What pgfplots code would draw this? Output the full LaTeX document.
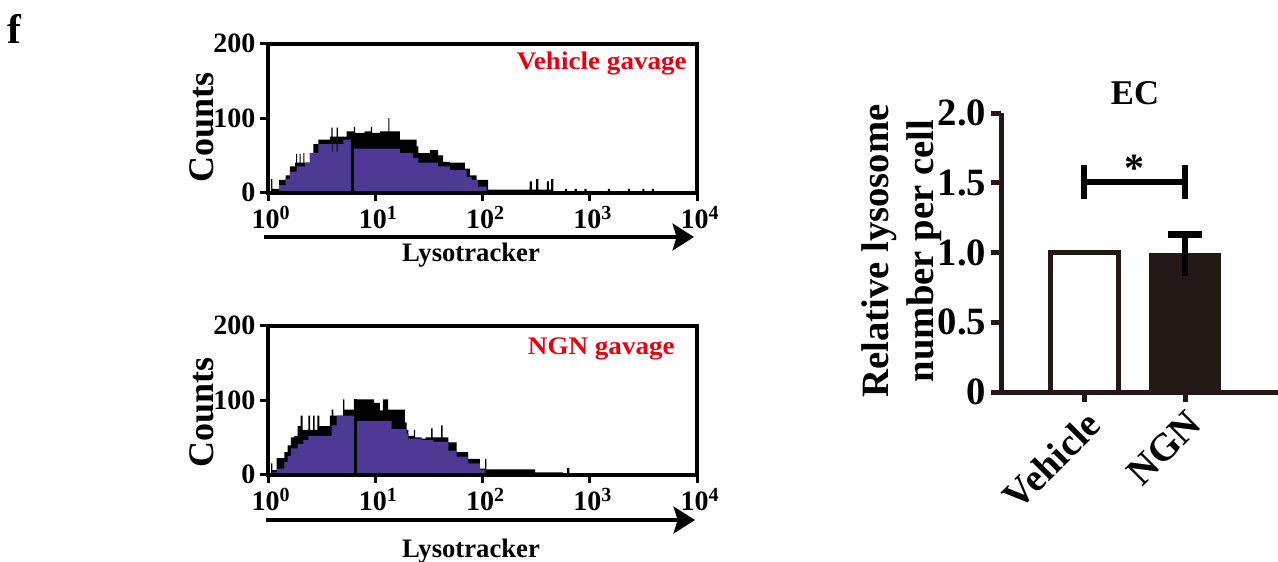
\documentclass[border=0pt]{standalone}
\usepackage{fontspec}
\setmainfont{Liberation Serif}
\newfontfamily\redfont[FakeStretch=1.07]{Liberation Serif}
\usepackage{pgfplots}
\pgfplotsset{compat=1.18}
\usetikzlibrary{arrows.meta}
\definecolor{hpurple}{RGB}{78,58,148}
\definecolor{barc}{RGB}{35,24,21}
\definecolor{fred}{RGB}{230,0,18}
\newcommand{\fs}[2]{\fontsize{#1}{#2}\selectfont\bfseries}
\newcommand{\ex}[1]{10\raisebox{0.32em}{\fontsize{15pt}{16pt}\selectfont #1}}
\pgfplotsset{
  hist/.style={
    scale only axis, width=321.75pt, height=111.75pt,
    xmin=0, xmax=4, ymin=0, ymax=200, clip=true,
    axis on top,
    axis line style={line width=3pt, black},
    xtick={0,1,2,3,4},
    xticklabels={\ex{0},\ex{1},\ex{2},\ex{3},\ex{4}},
    ytick={0,100,200}, yticklabels={0,100,200},
    xtick pos=bottom, ytick pos=left,
    tick align=outside, major tick length=6pt,
    tick style={line width=2.25pt, black},
    tick label style={font=\fs{21pt}{23pt}},
    x tick label style={yshift=-1pt, xshift=2pt},
  }
}
\begin{document}
\begin{tikzpicture}
\path[use as bounding box] (0,0) rectangle (958.5pt,-420.75pt);

% ---------- top histogram (Vehicle gavage) ----------
\begin{axis}[hist, at={(201pt,-144.375pt)}, anchor=south west]
\addplot[const plot, fill=black, draw=none] coordinates {
(0,0) (0.028,18) (0.040,5) (0.103,17) (0.165,23) (0.205,35) (0.252,40)
(0.262,52) (0.272,40) (0.295,52) (0.305,40) (0.330,53) (0.340,40)
(0.391,53) (0.422,65) (0.469,71) (0.578,75) (0.592,87) (0.602,75)
(0.640,87) (0.652,75) (0.733,82) (0.800,88) (0.812,80) (0.900,82)
(0.960,88) (0.970,80) (1.044,82) (1.122,100) (1.132,82) (1.230,71)
(1.385,62) (1.401,53) (1.510,57) (1.587,50) (1.634,41) (1.696,40)
(1.836,32) (1.883,23) (1.945,17) (2.053,4) (2.44,15) (2.46,4) (2.50,18)
(2.52,4) (2.60,15) (2.62,4) (2.64,18) (2.66,0) (2.77,5) (2.79,0)
(2.86,5) (2.88,0) (2.95,5) (2.97,0) (3.17,5) (3.19,0) (3.355,5)
(3.375,0) (3.49,5) (3.51,0) (3.58,5) (3.60,0)} \closedcycle;
\addplot[const plot, fill=hpurple, draw=none] coordinates {
(0.040,2) (0.103,10) (0.165,18) (0.205,28) (0.267,35) (0.345,40)
(0.391,53) (0.469,65) (0.595,55) (0.603,65) (0.640,55) (0.648,65)
(0.702,71) (0.792,59) (1.230,53) (1.354,46) (1.401,40) (1.587,35)
(1.696,30) (1.852,21) (1.898,17) (1.960,8) (2.038,0)} \closedcycle;
\addplot[black, line width=2pt] coordinates {(0.789,0) (0.789,80)};
\end{axis}

% ---------- bottom histogram (NGN gavage) ----------
\begin{axis}[hist, at={(201pt,-355.875pt)}, anchor=south west]
\addplot[const plot, fill=black, draw=none] coordinates {
(0,0) (0.030,15) (0.040,6) (0.081,22) (0.152,30) (0.183,39) (0.214,50)
(0.245,52) (0.276,65) (0.305,79) (0.322,60) (0.376,79) (0.392,60)
(0.420,79) (0.434,60) (0.460,79) (0.478,65) (0.540,65) (0.578,79)
(0.593,87) (0.609,79) (0.690,79) (0.700,101) (0.712,87) (0.800,101)
(0.990,96) (1.044,86) (1.070,101) (1.121,87) (1.277,70) (1.292,60)
(1.308,52) (1.360,60) (1.372,50) (1.432,48) (1.470,50) (1.520,62)
(1.535,50) (1.615,66) (1.628,50) (1.681,43) (1.758,30) (1.867,21)
(1.976,8) (2.025,21) (2.035,7) (2.49,3) (2.75,0) (2.79,9) (2.81,0)} \closedcycle;
\addplot[const plot, fill=hpurple, draw=none] coordinates {
(0.040,3) (0.081,8) (0.152,17) (0.183,25) (0.214,35) (0.276,41)
(0.329,46) (0.376,52) (0.593,66) (0.640,79) (0.814,72) (1.153,61)
(1.277,61) (1.292,55) (1.308,48) (1.432,46) (1.541,44) (1.681,32)
(1.758,24) (1.867,15) (1.976,6) (2.022,0)} \closedcycle;
\addplot[black, line width=2pt] coordinates {(0.817,0) (0.817,101)};
\end{axis}

% ---------- bar chart ----------
\begin{axis}[
  at={(750.75pt,-294pt)}, anchor=south west,
  scale only axis, width=207.75pt, height=209.25pt,
  xmin=-0.822, xmax=1.921, ymin=0, ymax=2, clip=false,
  axis x line=bottom, axis y line=left,
  axis line style={-, line width=3.75pt, barc},
  ytick={0,0.5,1,1.5,2}, yticklabels={0,0.5,1.0,1.5,2.0},
  xtick={0,1}, xticklabels={Vehicle,NGN},
  tick align=outside, major tick length=7.5pt,
  tick style={line width=3.75pt, barc},
  tick label style={font=\fs{29pt}{30pt}},
  x tick label style={rotate=45, anchor=north east},
]
\addplot[ybar, bar shift=0pt, bar width=0.673, fill=white, draw=barc, line width=3.75pt] coordinates {(0,1.0)};
\addplot[ybar, bar shift=0pt, bar width=0.673, fill=barc, draw=barc, line width=3.75pt] coordinates {(1,0.98)};
\addplot[black, line width=5pt] coordinates {(1,0.83) (1,1.13)};
\addplot[black, line width=5pt] coordinates {(0.832,1.13) (1.168,1.13)};
\addplot[black, line width=4.5pt] coordinates {(0,1.503) (1,1.503)};
\addplot[black, line width=4.5pt] coordinates {(0,1.384) (0,1.627)};
\addplot[black, line width=4.5pt] coordinates {(1,1.384) (1,1.627)};
\end{axis}

\begin{scope}[x=0.75pt, y=-0.75pt]
\node[anchor=base west, font=\fs{31pt}{32pt}, inner sep=0pt] at (7,43) {f};
% histogram labels
\node[rotate=90, font=\fs{27pt}{29pt}] at (202,127) {Counts};
\node[rotate=90, font=\fs{27pt}{29pt}] at (202,412) {Counts};
\node[anchor=base east, font=\redfont\fs{19pt}{21pt}, text=fred, inner sep=0pt] at (687,69) {Vehicle gavage};
\node[anchor=base east, font=\redfont\fs{19pt}{21pt}, text=fred, inner sep=0pt] at (675,354) {NGN gavage};
\draw[line width=3.6pt, -{Stealth[length=16pt, width=20pt, inset=3pt]}] (264,237) -- (694,237);
\draw[line width=3.6pt, -{Stealth[length=16pt, width=20pt, inset=3pt]}] (266,520) -- (695,520);
\node[anchor=base, font=\fs{20pt}{22pt}, inner sep=0pt] at (471,261) {Lysotracker};
\node[anchor=base, font=\fs{20pt}{22pt}, inner sep=0pt] at (471,557) {Lysotracker};
% bar chart labels
\node[anchor=base, font=\fs{26pt}{27pt}, inner sep=0pt] at (1135,104) {EC};
\node[rotate=90, align=center, font=\fs{29pt}{33.75pt}] at (902,251) {Relative lysosome\\number per cell};
\node[anchor=base, font=\fs{30pt}{31pt}, inner sep=0pt] at (1134,181) {*};
\end{scope}
\end{tikzpicture}
\end{document}
